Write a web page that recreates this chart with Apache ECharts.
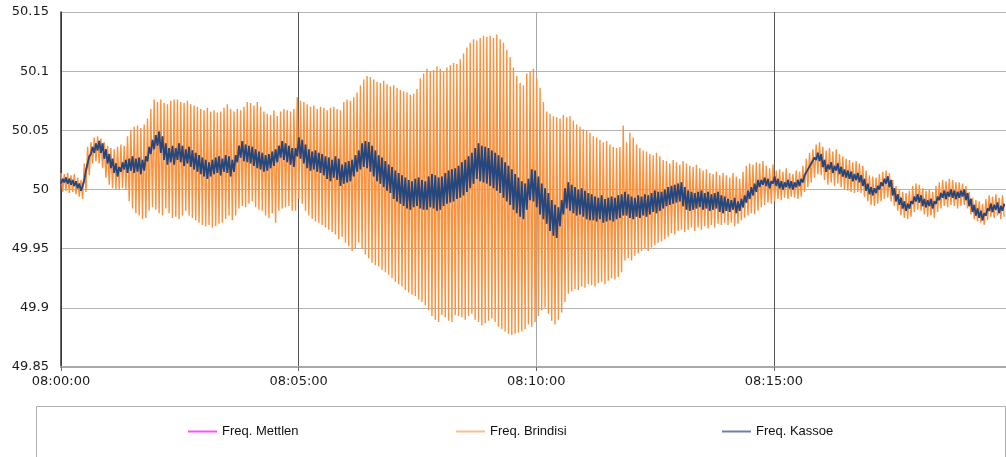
<!DOCTYPE html>
<html><head><meta charset="utf-8">
<script src="https://cdn.jsdelivr.net/npm/echarts@6/dist/echarts.min.js"></script>
<style>html,body{margin:0;padding:0;background:#fff}#c{width:1006px;height:457px}</style>
</head><body><div id="c"></div>
<script>
// x tick labels (one every 300 s from 08:00:00)
const xTickLabels = ['08:00:00', '08:05:00', '08:10:00', '08:15:00'];
const yTickValues = [49.85, 49.9, 49.95, 50, 50.05, 50.1, 50.15];
const seriesNames = ['Freq. Mettlen', 'Freq. Brindisi', 'Freq. Kassoe'];
// one oscillation cycle of the inter-area swing, seconds
const cycleSeconds = 4.2;
const axisEndSeconds = 1193;

// Brindisi: peak and trough of each oscillation cycle (Hz)
const brindisiMax = [
50.014,50.013,50.014,50.012,50.013,50.010,50.008,50.022,50.036,50.040,
50.044,50.045,50.043,50.040,50.037,50.035,50.034,50.036,50.038,50.037,
50.045,50.050,50.053,50.054,50.052,50.055,50.060,50.068,50.076,50.074,
50.076,50.073,50.072,50.075,50.076,50.076,50.074,50.073,50.075,50.072,
50.071,50.070,50.068,50.067,50.069,50.066,50.067,50.065,50.066,50.069,
50.072,50.068,50.066,50.068,50.067,50.070,50.074,50.073,50.071,50.074,
50.070,50.066,50.064,50.063,50.067,50.062,50.066,50.068,50.067,50.066,
50.068,50.078,50.075,50.074,50.072,50.070,50.071,50.068,50.070,50.069,
50.067,50.069,50.070,50.068,50.067,50.074,50.076,50.075,50.078,50.082,
50.088,50.093,50.096,50.095,50.093,50.091,50.090,50.092,50.089,50.087,
50.088,50.086,50.084,50.083,50.082,50.080,50.081,50.085,50.094,50.098,
50.102,50.100,50.101,50.104,50.102,50.100,50.103,50.105,50.107,50.106,
50.110,50.115,50.120,50.124,50.127,50.126,50.128,50.130,50.129,50.130,
50.128,50.131,50.127,50.124,50.118,50.112,50.103,50.096,50.090,50.088,
50.098,50.100,50.102,50.094,50.086,50.074,50.066,50.064,50.062,50.061,
50.060,50.063,50.061,50.062,50.058,50.055,50.053,50.051,50.050,50.048,
50.045,50.044,50.042,50.040,50.041,50.038,50.036,50.035,50.036,50.054,
50.040,50.048,50.044,50.038,50.035,50.033,50.032,50.030,50.029,50.031,
50.028,50.025,50.024,50.022,50.025,50.023,50.021,50.024,50.022,50.020,
50.019,50.021,50.018,50.016,50.017,50.014,50.013,50.015,50.012,50.014,
50.012,50.010,50.014,50.011,50.009,50.015,50.020,50.022,50.021,50.023,
50.022,50.024,50.020,50.018,50.021,50.016,50.017,50.015,50.018,50.014,
50.013,50.016,50.015,50.020,50.026,50.031,50.034,50.038,50.040,50.036,
50.033,50.035,50.032,50.034,50.030,50.028,50.026,50.025,50.023,50.024,
50.022,50.020,50.016,50.012,50.011,50.010,50.013,50.015,50.016,50.014,
50.008,50.003,50.000,49.998,49.997,49.999,50.003,50.005,50.004,50.001,
49.999,50.000,49.998,50.003,50.006,50.008,50.007,50.009,50.008,50.006,
50.006,50.005,50.003,49.998,49.993,49.991,49.990,49.988,49.992,49.995,49.994,49.996,49.993,49.995
];
const brindisiMin = [
49.998,49.999,49.997,49.998,49.996,49.994,49.992,49.998,50.012,50.022,
50.024,50.022,50.018,50.010,50.004,50.001,50.000,50.000,50.001,50.000,
49.990,49.984,49.980,49.978,49.975,49.976,49.982,49.985,49.983,49.980,
49.978,49.984,49.980,49.976,49.977,49.975,49.978,49.982,49.978,49.976,
49.974,49.972,49.970,49.969,49.970,49.968,49.969,49.971,49.972,49.975,
49.978,49.974,49.978,49.984,49.986,49.985,49.988,49.990,49.985,49.983,
49.982,49.978,49.976,49.980,49.972,49.982,49.984,49.985,49.986,49.982,
49.982,49.992,49.988,49.982,49.978,49.975,49.973,49.972,49.970,49.968,
49.966,49.964,49.962,49.958,49.960,49.955,49.952,49.948,49.950,49.955,
49.950,49.945,49.942,49.938,49.936,49.935,49.932,49.930,49.928,49.925,
49.922,49.920,49.918,49.915,49.913,49.911,49.910,49.907,49.905,49.902,
49.898,49.893,49.890,49.888,49.894,49.892,49.889,49.888,49.894,49.893,
49.892,49.890,49.893,49.895,49.890,49.888,49.885,49.887,49.889,49.891,
49.888,49.884,49.882,49.880,49.878,49.877,49.878,49.879,49.880,49.882,
49.886,49.884,49.888,49.893,49.898,49.900,49.895,49.889,49.886,49.890,
49.896,49.905,49.912,49.914,49.916,49.915,49.918,49.917,49.920,49.919,
49.918,49.921,49.922,49.920,49.923,49.925,49.924,49.926,49.930,49.940,
49.942,49.940,49.944,49.946,49.948,49.950,49.948,49.951,49.953,49.955,
49.956,49.958,49.960,49.963,49.962,49.965,49.966,49.964,49.966,49.968,
49.965,49.968,49.966,49.969,49.967,49.970,49.968,49.971,49.970,49.972,
49.970,49.972,49.969,49.971,49.974,49.976,49.978,49.980,49.979,49.982,
49.985,49.987,49.989,49.988,49.990,49.992,49.991,49.993,49.992,49.994,
49.993,49.992,49.994,49.998,50.002,50.006,50.010,50.013,50.012,50.008,
50.004,50.006,50.003,50.005,50.002,50.000,49.999,49.998,49.997,49.998,
49.997,49.994,49.990,49.987,49.986,49.988,49.990,49.992,49.993,49.990,
49.986,49.982,49.978,49.976,49.975,49.977,49.981,49.983,49.982,49.979,
49.977,49.978,49.976,49.981,49.984,49.986,49.985,49.987,49.986,49.984,
49.986,49.987,49.984,49.979,49.975,49.973,49.972,49.970,49.974,49.977,49.976,49.978,49.975,49.977
];
// Kassoe: high and low of each cycle (Hz)
const kassoeMax = [
50.009,50.010,50.009,50.008,50.007,50.005,50.003,50.016,50.028,50.036,
50.039,50.041,50.039,50.034,50.030,50.026,50.022,50.019,50.023,50.025,
50.026,50.028,50.026,50.027,50.025,50.028,50.036,50.042,50.046,50.049,
50.045,50.039,50.035,50.037,50.035,50.039,50.037,50.034,50.036,50.033,
50.031,50.029,50.027,50.025,50.023,50.025,50.027,50.028,50.026,50.029,
50.028,50.025,50.029,50.037,50.041,50.038,50.037,50.036,50.034,50.032,
50.031,50.029,50.030,50.032,50.034,50.037,50.041,50.039,50.037,50.035,
50.035,50.044,50.042,50.038,50.034,50.032,50.033,50.031,50.030,50.028,
50.027,50.025,50.028,50.026,50.021,50.023,50.024,50.025,50.029,50.033,
50.039,50.041,50.040,50.037,50.033,50.029,50.027,50.024,50.021,50.019,
50.016,50.014,50.012,50.010,50.008,50.007,50.009,50.010,50.008,50.007,
50.011,50.013,50.012,50.010,50.011,50.014,50.016,50.017,50.018,50.020,
50.023,50.025,50.028,50.031,50.035,50.039,50.037,50.036,50.035,50.033,
50.031,50.029,50.027,50.023,50.020,50.017,50.013,50.010,50.007,50.005,
50.009,50.017,50.016,50.011,50.005,50.001,49.997,49.991,49.987,49.985,
49.991,50.001,50.006,50.004,50.002,50.000,50.001,49.999,49.997,49.996,
49.994,49.993,49.995,49.992,49.993,49.994,49.993,49.995,49.996,49.998,
49.996,49.994,49.993,49.995,49.994,49.996,49.995,49.997,49.999,49.998,
49.998,50.000,50.002,50.003,50.004,50.005,50.006,50.002,49.999,49.998,
49.997,49.998,49.999,49.997,49.998,49.996,49.997,49.998,49.995,49.994,
49.992,49.991,49.993,49.990,49.992,49.995,49.999,50.002,50.005,50.008,
50.008,50.010,50.009,50.007,50.011,50.009,50.007,50.006,50.008,50.007,
50.006,50.008,50.009,50.012,50.017,50.022,50.027,50.031,50.030,50.025,
50.021,50.023,50.020,50.022,50.019,50.017,50.016,50.015,50.013,50.014,
50.012,50.009,50.005,50.002,50.001,50.003,50.006,50.009,50.011,50.008,
50.001,49.996,49.993,49.990,49.988,49.990,49.994,49.996,49.995,49.992,
49.991,49.992,49.990,49.994,49.997,49.999,49.998,50.000,49.999,49.998,
49.999,50.000,49.997,49.992,49.987,49.984,49.982,49.980,49.984,49.988,49.987,49.989,49.986,49.988
];
const kassoeMin = [
50.005,50.006,50.005,50.004,50.003,50.001,49.999,50.008,50.022,50.030,
50.031,50.033,50.031,50.026,50.022,50.018,50.014,50.011,50.015,50.017,
50.014,50.016,50.014,50.015,50.013,50.016,50.024,50.030,50.034,50.037,
50.031,50.025,50.021,50.023,50.021,50.025,50.023,50.020,50.022,50.019,
50.017,50.015,50.013,50.011,50.009,50.011,50.013,50.014,50.012,50.015,
50.014,50.011,50.015,50.023,50.027,50.024,50.023,50.022,50.020,50.018,
50.017,50.015,50.016,50.018,50.020,50.023,50.027,50.025,50.023,50.021,
50.019,50.028,50.026,50.022,50.018,50.016,50.017,50.015,50.014,50.012,
50.009,50.007,50.010,50.008,50.003,50.005,50.006,50.007,50.011,50.015,
50.017,50.019,50.018,50.015,50.011,50.007,50.005,50.002,49.999,49.997,
49.992,49.990,49.988,49.986,49.984,49.983,49.985,49.986,49.984,49.983,
49.983,49.985,49.984,49.982,49.983,49.986,49.988,49.989,49.990,49.992,
49.993,49.995,49.998,50.001,50.005,50.009,50.007,50.006,50.005,50.003,
50.001,49.999,49.997,49.993,49.990,49.987,49.983,49.980,49.977,49.975,
49.983,49.991,49.990,49.985,49.979,49.975,49.971,49.965,49.961,49.959,
49.969,49.979,49.984,49.982,49.980,49.978,49.979,49.977,49.975,49.974,
49.974,49.973,49.975,49.972,49.973,49.974,49.973,49.975,49.976,49.978,
49.978,49.976,49.975,49.977,49.976,49.978,49.977,49.979,49.981,49.980,
49.982,49.984,49.986,49.987,49.988,49.989,49.990,49.986,49.983,49.982,
49.983,49.984,49.985,49.983,49.984,49.982,49.983,49.984,49.981,49.980,
49.982,49.981,49.983,49.980,49.982,49.985,49.989,49.992,49.995,49.998,
50.002,50.004,50.003,50.001,50.005,50.003,50.001,50.000,50.002,50.001,
50.000,50.002,50.003,50.006,50.011,50.016,50.021,50.025,50.024,50.019,
50.015,50.017,50.014,50.016,50.013,50.011,50.010,50.009,50.007,50.008,
50.006,50.003,49.999,49.996,49.995,49.997,50.000,50.003,50.005,50.002,
49.995,49.990,49.987,49.984,49.982,49.984,49.988,49.990,49.989,49.986,
49.985,49.986,49.984,49.988,49.991,49.993,49.992,49.994,49.993,49.992,
49.993,49.994,49.991,49.986,49.981,49.978,49.976,49.974,49.978,49.982,49.981,49.983,49.980,49.982
];
// Mettlen lies underneath Kassoe in the picture (same readings)
const mettlenMax = kassoeMax;
const mettlenMin = kassoeMin;

function buildPairs(first, second) {
  const out = [];
  for (let i = 0; i < first.length; i++) {
    out.push([i * cycleSeconds, first[i]]);
    out.push([i * cycleSeconds + cycleSeconds / 2, second[i]]);
  }
  return out;
}

const chart = echarts.init(document.getElementById('c'), null, {renderer: 'canvas'});
const axisFont = {fontFamily: 'DejaVu Sans', fontSize: 13, color: '#1a1a1a'};
const legendFont = {fontFamily: 'Liberation Sans', fontSize: 13, color: '#111'};
function legendAt(name, left, color) {
  return {
    data: [{name: name, itemStyle: {color: color}}],
    left: left, top: 425, icon: 'rect', itemWidth: 29, itemHeight: 2,
    itemGap: 0, padding: 0, selectedMode: false, textStyle: legendFont
  };
}
chart.setOption({
  animation: false,
  backgroundColor: '#fff',
  grid: {left: 61, right: 0, top: 12, bottom: 90, containLabel: false},
  xAxis: {
    type: 'value', min: 0, max: axisEndSeconds, interval: 300,
    axisLine: {show: true, lineStyle: {color: '#a8a8a8', width: 2}},
    axisTick: {show: true, length: 4, lineStyle: {color: '#666'}},
    axisLabel: Object.assign({margin: 8, showMaxLabel: false,
      formatter: v => (v % 300 === 0 && xTickLabels[v / 300]) ? xTickLabels[v / 300] : ''}, axisFont),
    splitLine: {show: true, lineStyle: {color: ['#555', '#555', '#a8a8a8', '#555', '#fff'], width: 1}}
  },
  yAxis: {
    type: 'value', min: yTickValues[0], max: yTickValues[yTickValues.length - 1], interval: 0.05,
    axisLine: {show: true, onZero: false, lineStyle: {color: '#333', width: 1.5}},
    axisTick: {show: false},
    axisLabel: Object.assign({margin: 12, formatter: v => String(parseFloat(v.toFixed(2)))}, axisFont),
    splitLine: {show: true, lineStyle: {color: '#b4b4b4', width: 1}}
  },
  legend: [
    legendAt(seriesNames[0], 188, '#ff4dff'),
    legendAt(seriesNames[1], 456, '#ffbe88'),
    legendAt(seriesNames[2], 722, '#6a82a8')
  ],
  graphic: [{
    type: 'rect', left: 34, top: 404, silent: true,
    shape: {width: 969, height: 80},
    style: {fill: 'none', stroke: '#b0b0b0', lineWidth: 1}
  }],
  series: [
    {name: seriesNames[0], type: 'line', symbol: 'none', z: 1,
     data: buildPairs(mettlenMin, mettlenMax), color: '#ff33ff',
     lineStyle: {color: '#ff33ff', width: 1.8}},
    {name: seriesNames[1], type: 'line', symbol: 'none', z: 2,
     data: buildPairs(brindisiMax, brindisiMin), color: '#f7923f',
     lineStyle: {color: '#f7923f', width: 1.4}},
    {name: seriesNames[2], type: 'line', symbol: 'none', z: 3,
     data: buildPairs(kassoeMin, kassoeMax), color: '#24477d',
     lineStyle: {color: '#24477d', width: 1.8}}
  ]
});
</script>
</body></html>
